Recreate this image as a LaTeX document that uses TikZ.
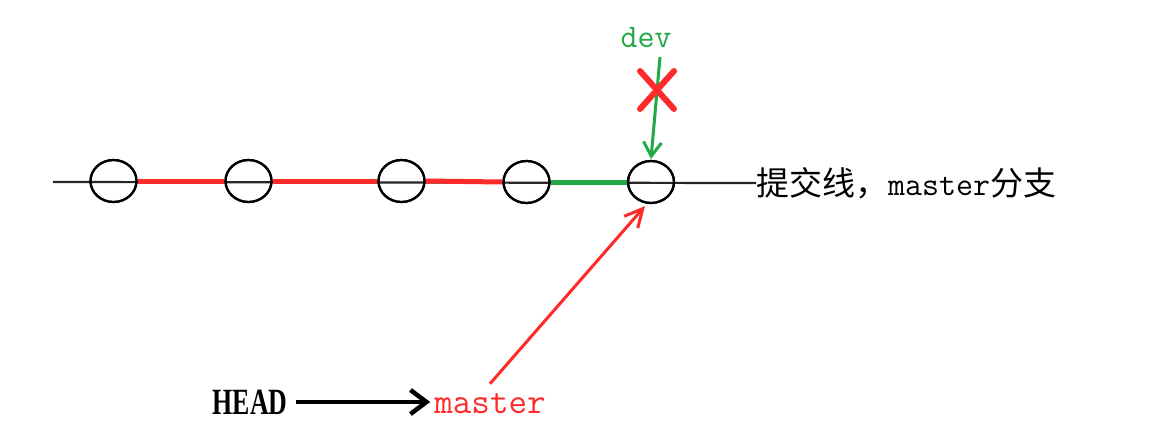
\documentclass[tikz,border=0pt]{standalone}
\usepackage{fontspec}
\newfontfamily\cjk{Noto Sans CJK SC}
\newfontfamily\headfont{Liberation Serif}
\usetikzlibrary{arrows.meta,shapes.geometric,calc}
\definecolor{gred}{HTML}{FF2A2A}
\definecolor{ggreen}{HTML}{22A845}
\tikzset{
  commit/.style={draw=black, line width=2.2pt, ellipse, minimum width=46pt, minimum height=42pt, inner sep=0pt},
  base/.style={draw=black!85, line width=2.2pt},
  redseg/.style={draw=gred, line width=5pt},
  greenseg/.style={draw=ggreen, line width=5pt},
  monolab/.style={font=\fontsize{33}{33}\selectfont\ttfamily, inner sep=0pt},
}
\begin{document}
\begin{tikzpicture}[x=1pt,y=-1pt]
\useasboundingbox (0,0) rectangle (1159,436);
\fill[white] (0,0) rectangle (1159,436);
% label and main line
\node[anchor=west, inner sep=0pt, font=\fontsize{33}{33}\selectfont] (lab) at (756,183) {\cjk 提交线，\ttfamily master\cjk 分支};
\coordinate (L) at (53,182);
\draw[base] (L) -- (lab.west);
% commits
\node[commit] (c1) at (113.5,181) {};
\node[commit] (c2) at (248.5,181) {};
\node[commit] (c3) at (401.5,181) {};
\node[commit] (c4) at (526.5,182) {};
\node[commit] (c5) at (651,182) {};
\draw[redseg] (c1.east) -- (c2.west);
\draw[redseg] (c2.east) -- (c3.west);
\draw[redseg] (c3.east) -- (c4.west);
\draw[greenseg] (c4.east) -- (c5.west);
\node[commit] at (c1) {};
\node[commit] at (c2) {};
\node[commit] at (c3) {};
\node[commit] at (c4) {};
\node[commit] at (c5) {};
% dev pointer
\node[monolab, text=ggreen] (dev) at (646,38) {dev};
\coordinate (dtail) at (660,57);
\draw[ggreen, line width=3pt, -{Straight Barb[length=14pt,width=18pt,line width=3pt]}] (dtail) -- ($(c5.north)+(0,-1)$);
% red cross
\coordinate (X) at (657,90);
\draw[gred, line width=6pt, line cap=round] ($(X)+(-17,-19)$) -- ($(X)+(17,19)$);
\draw[gred, line width=6pt, line cap=round] ($(X)+(17,-19)$) -- ($(X)+(-17,19)$);
% HEAD and master
\node[inner sep=0pt, font=\fontsize{37}{37}\selectfont\headfont\bfseries] (head) at (250,402) {\scalebox{0.7}[1]{HEAD}};
\node[monolab, font=\fontsize{36}{36}\selectfont\ttfamily, text=gred] (master) at (490,404) {master};
\draw[black, line width=4.5pt, -{Straight Barb[length=16pt,width=24pt,line width=4.5pt]}] ($(head.east)+(8,0)$) -- ($(master.west)+(-4,-2)$);
\draw[gred, line width=3pt, -{Straight Barb[length=18pt,width=18pt,line width=3pt]}] ($(master.north)+(0,-10)$) -- ($(c5.south)+(-6,2)$);
\end{tikzpicture}
\end{document}
